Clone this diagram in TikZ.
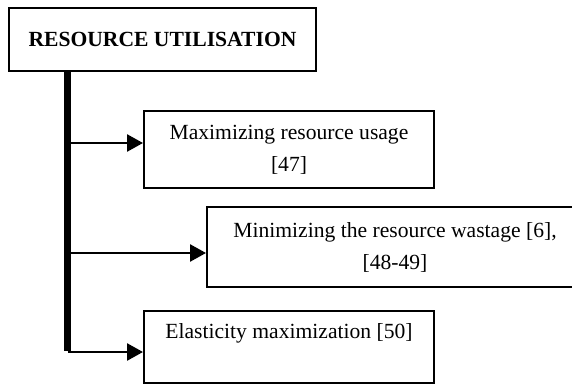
\documentclass[tikz,border=0pt]{standalone}
\usepackage{fontspec}
\setmainfont{Liberation Serif}
\usetikzlibrary{arrows.meta}

\begin{document}
\begin{tikzpicture}[x=1pt, y=-1pt,
    every node/.style={font=\fontsize{21.6}{32}\selectfont},
    box/.style={draw, line width=2pt, inner sep=0pt, align=center},
    link/.style={line width=2.6pt, -{Triangle[length=16pt, width=17pt]}}]
    \useasboundingbox (0,0) rectangle (572,385);

    % boxes
    \node[box, minimum width=307pt, minimum height=63pt, font=\fontsize{21.6}{32}\selectfont\bfseries] (root) at (162.5,39.5) {RESOURCE UTILISATION};
    \node[box, minimum width=290pt, minimum height=77pt] (usage) at (289,149.5) {Maximizing resource usage\\ {[47]}};
    \node[box, minimum width=376pt, minimum height=80pt] (waste) at (395,247) {Minimizing the resource wastage [6],\\ {[48-49]}};
    \node[box, minimum width=290pt, minimum height=72pt] (elastic) at (289,347) {Elasticity maximization [50]\\ \mbox{}};

    % spine
    \coordinate (b1) at (67.5,143);
    \coordinate (b2) at (67.5,253);
    \coordinate (b3) at (67.5,352);
    \draw[line width=6.5pt] (root.south -| b3) -- ([yshift=1.3pt]b3);

    % arrows
    \draw[link] (b1) -- (b1 -| usage.west);
    \draw[link] (b2) -- (b2 -| waste.west);
    \draw[link] (b3) -- (b3 -| elastic.west);
\end{tikzpicture}
\end{document}
